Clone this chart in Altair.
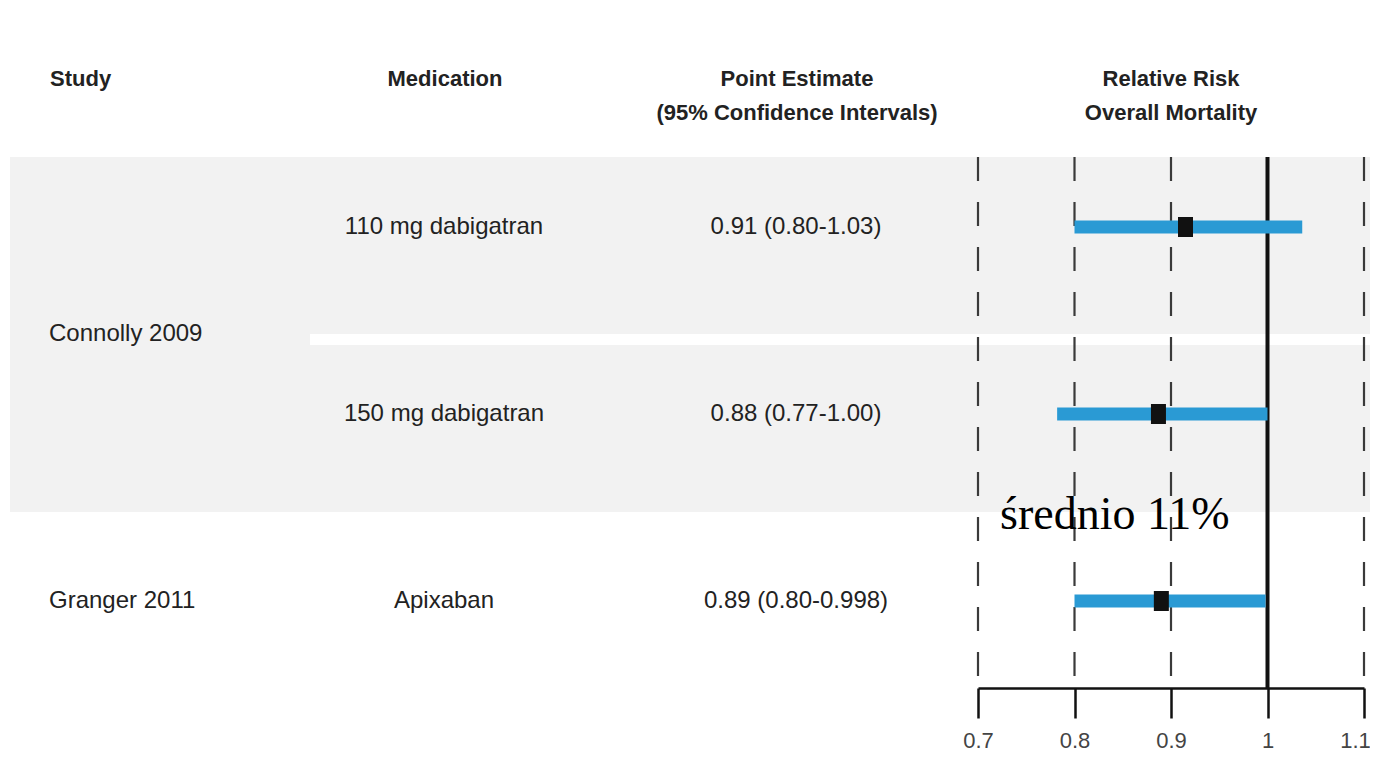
import altair as alt
import pandas as pd

# ---- data ----
rows = [1, 2, 3]
medications = ["110 mg dabigatran", "150 mg dabigatran", "Apixaban"]
ci_labels = ["0.91 (0.80-1.03)", "0.88 (0.77-1.00)", "0.89 (0.80-0.998)"]
estimates = [0.915, 0.887, 0.890]
ci_low = [0.80, 0.782, 0.80]
ci_high = [1.036, 1.00, 0.998]

study_names = ["Connolly 2009", "Granger 2011"]
study_rows = [1.57, 3]

grid_values = [0.7, 0.8, 0.9, 1.1]
axis_values = [0.7, 0.8, 0.9, 1.0, 1.1]
annotation = "średnio 11%"

df = pd.DataFrame({"row": rows, "med": medications, "ci": ci_labels,
                   "est": estimates, "lo": ci_low, "hi": ci_high})
df_study = pd.DataFrame({"row": study_rows, "study": study_names})
df_grid = pd.DataFrame({"g": grid_values})
df_one = pd.DataFrame({"k": [0]})

W, H = 1362, 680
SANS = "Liberation Sans, Arial, sans-serif"

xs = alt.Scale(domain=[0.7, 1.1], range=[970, 1356], nice=False, zero=False)
ys = alt.Scale(domain=[1, 3], range=[219, 593], nice=False, zero=False)
xaxis = alt.Axis(values=axis_values, format="~g", title=None, grid=False,
                 domainColor="#111111", domainWidth=2.5,
                 tickColor="#111111", tickWidth=2.5, tickSize=30,
                 labelFont=SANS, labelFontSize=22, labelColor="#444444",
                 labelPadding=12, labelFlush=False, labelOverlap=False,
                 labelOffset={"condition": {"test": "datum.value > 1.05", "value": -9},
                              "value": 0})


def X(field):
    return alt.X(field, scale=xs, axis=xaxis)


def Y(field):
    return alt.Y(field, scale=ys, axis=None)


band = alt.Chart(df_one).mark_rect(color="#f2f2f2").encode(
    x=alt.value(2), x2=alt.value(W), y=alt.value(149), y2=alt.value(504))
sep = alt.Chart(df_one).mark_rect(color="#ffffff").encode(
    x=alt.value(302), x2=alt.value(W), y=alt.value(326), y2=alt.value(337))

grid = alt.Chart(df_grid).mark_rule(color="#3a3a3a", strokeWidth=2.2,
                                    strokeDash=[24, 21]).encode(
    x=X("g:Q"), y=alt.value(149), y2=alt.value(H))

ref = alt.Chart(df_one).mark_rule(color="#111111", strokeWidth=4).encode(
    x=alt.datum(1.0, scale=xs, axis=xaxis), y=alt.value(149), y2=alt.value(H))

ci = alt.Chart(df).mark_rule(color="#2a9ad4", strokeWidth=13, strokeCap="butt").encode(
    x=X("lo:Q"), x2="hi:Q", y=Y("row:Q"))

pts = alt.Chart(df).mark_point(
    shape="M-0.75,-1L0.75,-1L0.75,1L-0.75,1Z", size=400, filled=True,
    color="#111111", opacity=1).encode(x=X("est:Q"), y=Y("row:Q"))

txt_kw = dict(font=SANS, fontSize=24, color="#222222", baseline="middle")
med = alt.Chart(df).mark_text(align="center", **txt_kw).encode(
    x=alt.value(436), y=Y("row:Q"), text="med:N")
cit = alt.Chart(df).mark_text(align="center", **txt_kw).encode(
    x=alt.value(788), y=Y("row:Q"), text="ci:N")
stu = alt.Chart(df_study).mark_text(align="left", **txt_kw).encode(
    x=alt.value(41), y=Y("row:Q"), text="study:N")

hdr_kw = dict(font=SANS, fontSize=22, fontWeight="bold", color="#222222",
              baseline="top", lineBreak="\n", lineHeight=34)
h1 = alt.Chart(df_one).mark_text(align="left", text="Study", **hdr_kw).encode(
    x=alt.value(42), y=alt.value(61))
h2 = alt.Chart(df_one).mark_text(align="center", text="Medication", **hdr_kw).encode(
    x=alt.value(437), y=alt.value(61))
h3 = alt.Chart(df_one).mark_text(align="center",
                                 text="Point Estimate\n(95% Confidence Intervals)",
                                 **hdr_kw).encode(x=alt.value(789), y=alt.value(61))
h4 = alt.Chart(df_one).mark_text(align="center",
                                 text="Relative Risk\nOverall Mortality",
                                 **hdr_kw).encode(x=alt.value(1163), y=alt.value(61))

ann = alt.Chart(df_one).mark_text(align="left", baseline="middle", text=annotation,
                                  font="Liberation Serif", fontSize=46,
                                  color="#000000").encode(
    x=alt.value(992), y=alt.value(507))

chart = alt.layer(band, sep, grid, ref, ci, pts, med, cit, stu, h1, h2, h3, h4, ann).properties(
    width=W, height=H,
    background="white",
    autosize=alt.AutoSizeParams(type="none"),
    padding={"left": 0, "top": 0, "right": 0, "bottom": 84},
).configure_view(stroke=None)

chart.save("out.html", embed_options={"renderer": "svg", "actions": False})
